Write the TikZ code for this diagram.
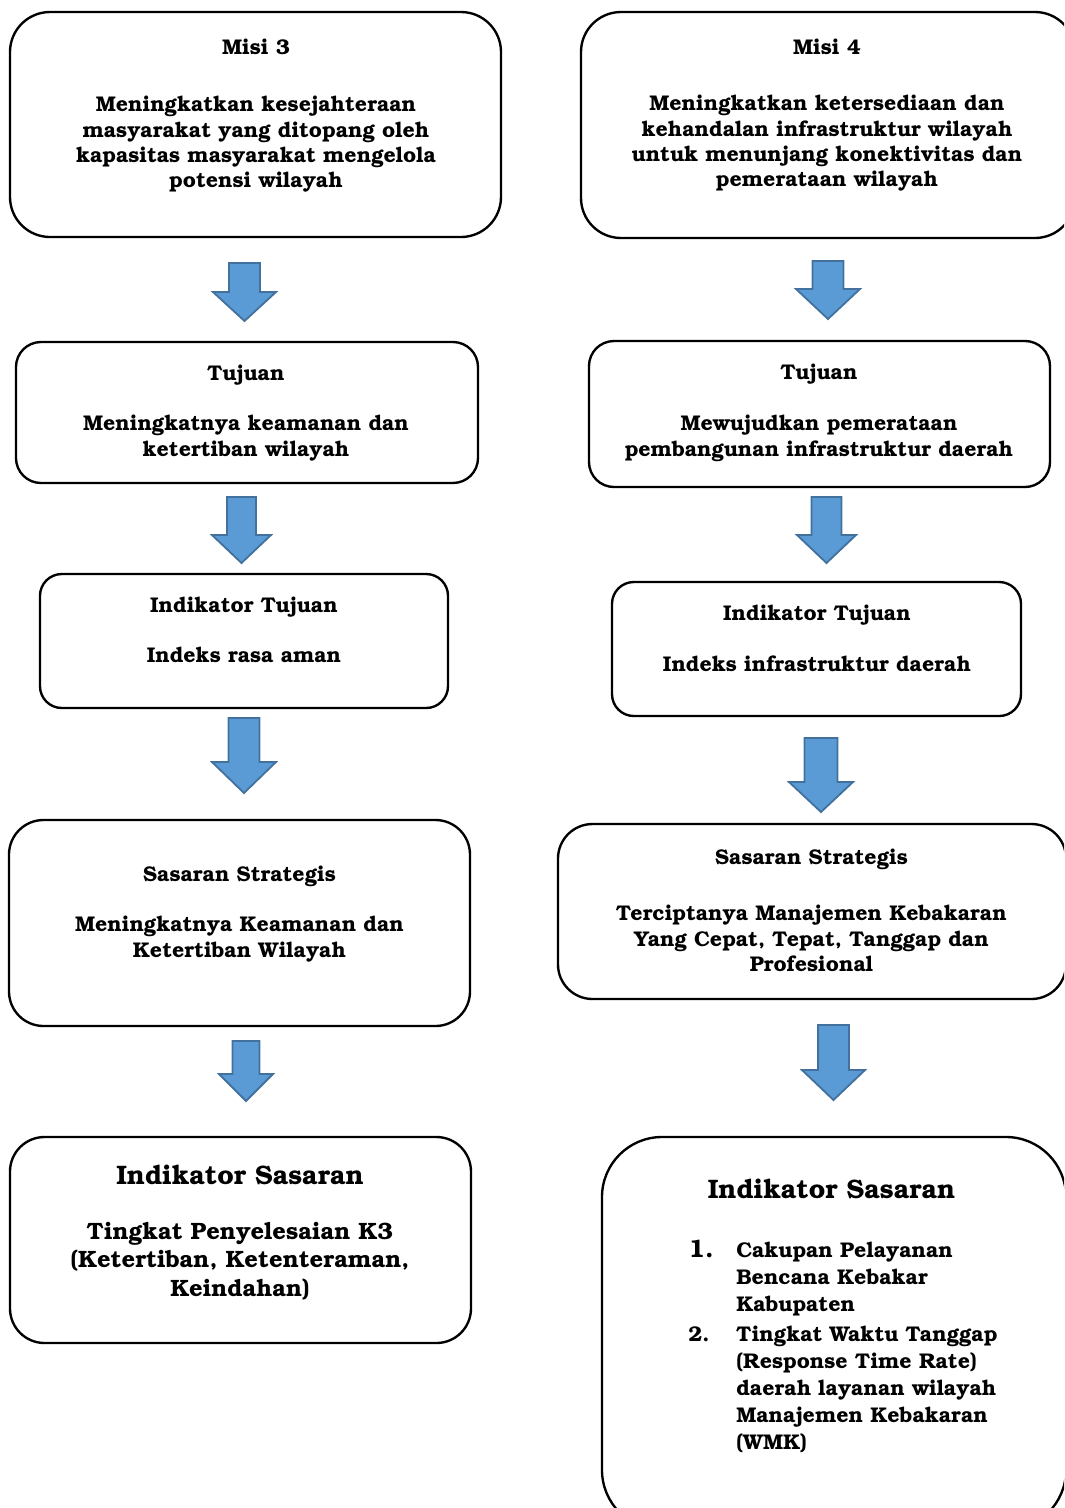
\documentclass[tikz,border=0pt]{standalone}
\usepackage[T1]{fontenc}
\usepackage{bookman}
\usepackage{array}

\definecolor{arrowfill}{HTML}{5B9BD5}
\definecolor{arrowline}{HTML}{41719C}

\newcommand{\pxu}{0.55pt}
% block arrow: centre x, top, start of head, tip, half shaft, half head
\newcommand{\blockarr}[6]{%
  \draw[blockarrow] (#1-#5,#2) -- (#1+#5,#2) -- (#1+#5,#3) -- (#1+#6,#3)
    -- (#1,#4) -- (#1-#6,#3) -- (#1-#5,#3) -- cycle;}

\begin{document}
\begin{tikzpicture}[x=0.55pt, y=-0.55pt,
    box/.style={draw=black, line width=1.3pt, fill=white, inner sep=0pt},
    head/.style={font=\bfseries\fontsize{11.7}{14}\selectfont, inner sep=0pt, anchor=base},
    bighead/.style={font=\bfseries\fontsize{14.7}{17}\selectfont, inner sep=0pt, anchor=base},
    body/.style={font=\bfseries\fontsize{11.7}{14}\selectfont, align=center, inner sep=0pt, anchor=north},
    blockarrow/.style={fill=arrowfill, draw=arrowline, line width=1pt, line join=miter}]

\useasboundingbox (0,0) rectangle (1064,1508);
\clip (0,0) rectangle (1064,1508);

% left column
\node[box, rounded corners=22pt, minimum width=491*\pxu, minimum height=225*\pxu] (misi3) at (255.5,124.5) {};
\node[head] (misi3h) at (256,54.5) {Misi 3};
\node[body] (misi3b) at (256,96) {Meningkatkan kesejahteraan\\masyarakat yang ditopang oleh\\kapasitas masyarakat mengelola\\potensi wilayah};

\node[box, rounded corners=13.75pt, minimum width=462*\pxu, minimum height=141*\pxu] (tujuan3) at (247,412.5) {};
\node[head] (tujuan3h) at (246,380.5) {Tujuan};
\node[body] (tujuan3b) at (246,415) {Meningkatnya keamanan dan\\ketertiban wilayah};

\node[box, rounded corners=12pt, minimum width=408*\pxu, minimum height=134*\pxu] (indtuj3) at (244,641) {};
\node[head] (indtuj3h) at (244,612.5) {Indikator Tujuan};
\node[body] (indtuj3b) at (244,647) {Indeks rasa aman};

\node[box, rounded corners=19pt, minimum width=461*\pxu, minimum height=206*\pxu] (sasaran3) at (239.5,923) {};
\node[head] (sasaran3h) at (239.5,881.5) {Sasaran Strategis};
\node[body] (sasaran3b) at (239.5,916) {Meningkatnya Keamanan dan\\Ketertiban Wilayah};

\node[box, rounded corners=19pt, minimum width=461*\pxu, minimum height=206*\pxu] (indsas3) at (240.5,1240) {};
\node[bighead] (indsas3h) at (240,1184) {Indikator Sasaran};
\node[body, font=\bfseries\fontsize{13}{15.7}\selectfont] (indsas3b) at (240,1222) {Tingkat Penyelesaian K3\\(Ketertiban, Ketenteraman,\\Keindahan)};

% right column
\node[box, rounded corners=22pt, minimum width=494*\pxu, minimum height=226*\pxu] (misi4) at (828,125) {};
\node[head] (misi4h) at (827,54.5) {Misi 4};
\node[body] (misi4b) at (827,95) {Meningkatkan ketersediaan dan\\kehandalan infrastruktur wilayah\\untuk menunjang konektivitas dan\\pemerataan wilayah};

\node[box, rounded corners=13.75pt, minimum width=461*\pxu, minimum height=146*\pxu] (tujuan4) at (819.5,414) {};
\node[head] (tujuan4h) at (819,379.5) {Tujuan};
\node[body] (tujuan4b) at (819,415) {Mewujudkan pemerataan\\pembangunan infrastruktur daerah};

\node[box, rounded corners=12pt, minimum width=409*\pxu, minimum height=134*\pxu] (indtuj4) at (816.5,649) {};
\node[head] (indtuj4h) at (817,620.5) {Indikator Tujuan};
\node[body] (indtuj4b) at (817,655) {Indeks infrastruktur daerah};

\node[box, rounded corners=19pt, minimum width=508*\pxu, minimum height=175*\pxu] (sasaran4) at (812,911.5) {};
\node[head] (sasaran4h) at (811.5,864.5) {Sasaran Strategis};
\node[body] (sasaran4b) at (811.5,905) {Terciptanya Manajemen Kebakaran\\Yang Cepat, Tepat, Tanggap dan\\Profesional};

\node[box, rounded corners=33pt, minimum width=464*\pxu, minimum height=393*\pxu] (indsas4) at (834,1333.5) {};
\node[bighead] (indsas4h) at (831.5,1198) {Indikator Sasaran};
\node[anchor=north west, inner sep=0pt, font=\bfseries\fontsize{11.7}{14.85}\selectfont] (indsas4b) at (688,1238) {%
  \begin{tabular}{@{}p{26.4pt}@{}l@{}}
    {\fontsize{14}{14}\selectfont 1.} & Cakupan Pelayanan\\
      & Bencana Kebakar\\
      & Kabupaten\\[1.6pt]
    2. & Tingkat Waktu Tanggap\\
      & (Response Time Rate)\\
      & daerah layanan wilayah\\
      & Manajemen Kebakaran\\
      & (WMK)
  \end{tabular}};

% arrows
\blockarr{244.5}{263}{292}{321}{15.5}{31.5}
\blockarr{241.5}{497}{535}{563}{14.5}{29.5}
\blockarr{244}{718}{762}{793}{15.5}{32}
\blockarr{246}{1041}{1074}{1101}{13.5}{27}
\blockarr{828}{261}{289}{319}{15.5}{32}
\blockarr{826.5}{497}{535}{563}{15}{29.5}
\blockarr{821}{738}{782}{812}{16.5}{32}
\blockarr{833.5}{1025}{1070}{1100}{15.5}{31.5}
\end{tikzpicture}
\end{document}
